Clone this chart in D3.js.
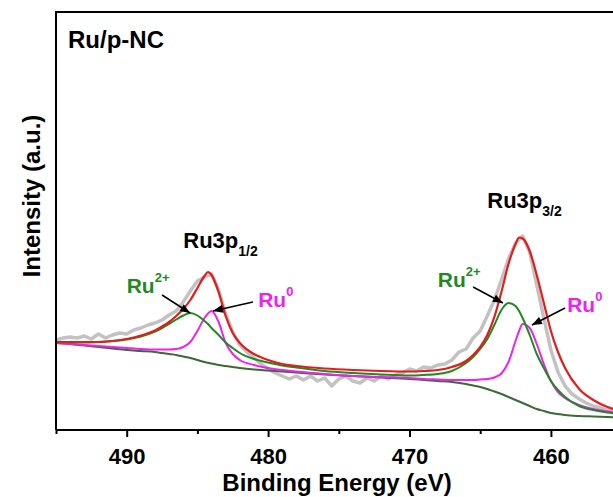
<!DOCTYPE html>
<html>
<head>
<meta charset="utf-8">
<script src="https://cdn.jsdelivr.net/npm/d3@7/dist/d3.min.js"></script>
<style>
  html, body { margin: 0; padding: 0; background: #fff; }
  svg { display: block; }
  text { font-family: "Liberation Sans", Arial, sans-serif; font-weight: bold; }
</style>
</head>
<body>
<svg id="chart" width="613" height="497"></svg>
<script>
// Ru 3p XPS spectrum of Ru/p-NC with peak fitting (intensity in a.u.)

// Energy grid (eV) for the fitted curves
const fitEnergy = [495, 494, 493, 492, 491, 490, 489, 488, 487.5, 487, 486.5, 486, 485.5, 485, 484.5, 484.25, 484,
  483.5, 483, 482.5, 482, 481, 480, 479, 478, 476, 474, 472, 470, 469, 468, 467, 466, 465.5, 465, 464.5, 464,
  463.5, 463, 462.5, 462.25, 462, 461.5, 461, 460.5, 460, 459.5, 459, 458, 457, 456, 455];

// Shirley background
const background = [87, 86, 84.5, 83, 81.5, 80, 79, 78, 77, 76, 75, 73.5, 72, 70, 68, 67.3, 66.5,
  65, 64, 63, 62, 60.5, 59.5, 58.5, 57.5, 55.5, 54, 52.5, 51, 50, 49, 48, 46, 44.5, 43, 41, 38.5,
  36, 33, 30, 28.5, 27, 24, 21, 19, 17, 16, 15, 14, 13.5, 13, 12.5];

// Ru2+ component (on background)
const ru2plus = [87.5, 87.5, 87.5, 88, 89, 90.5, 93.5, 98.5, 102, 106, 110.5, 114.5, 117, 114.5, 109, 106, 102,
  95, 87.5, 82, 77, 71, 67.5, 64.5, 62.5, 59, 57, 55.5, 54.5, 55, 56, 59, 67, 73, 81, 91, 105,
  120, 127, 124, 119, 112, 95, 76, 62, 49, 40, 33, 24, 20, 17.5, 16];

// Ru0 component (on background)
const ru0 = [87, 86, 85, 84, 83, 82, 81, 80.5, 80.5, 80.5, 81, 83, 88, 99, 112, 116.5, 119,
  108, 87, 76, 70, 65, 62, 60, 58.5, 56, 54, 53, 52, 51, 50.5, 50, 50, 50, 50.5, 51, 52.5,
  56.5, 68, 89, 99, 106, 102, 86, 66, 49, 38, 32, 25, 21, 18.5, 17];

// Fitted envelope
const envelope = [88, 88, 88, 88, 89, 91, 94.5, 99.5, 103.5, 108, 114, 121, 130, 142, 154, 158, 155,
  138, 114, 97, 87, 76, 70, 66, 64, 61.5, 60, 59, 58.5, 59, 60, 63, 69, 75, 83, 95, 113,
  138, 166, 186, 192.5, 191.5, 179, 155, 127, 99, 78, 62, 41, 30, 23, 19];

// Measured spectrum, 0.5 eV steps from 495 eV down to 455.5 eV
const rawStart = 495, rawStep = 0.5;
const rawCounts = [90, 92, 93, 92, 94, 91, 96, 92, 95, 97, 96, 100, 102, 105, 107, 110, 115, 119, 128, 139,
  149, 153, 156, 140, 116, 98, 85, 78, 72, 66, 61, 57, 54, 51, 54, 50, 54, 49, 52, 44,
  51, 54, 49, 47, 52, 49, 54, 51, 55, 57, 61, 59, 63, 62, 65, 66, 70, 78, 81, 92,
  99, 114, 130, 150, 171, 187, 194, 178, 145, 112, 80, 58, 44, 36, 31, 27, 24, 22, 20, 19];

const majorTicks = [490, 480, 470, 460];
const minorTicks = [495, 485, 475, 465, 455];

// Annotations, in data units
const peakLabels = [
  { text: "Ru3p", sub: "1/2", e: 486.0, i: 182 },
  { text: "Ru3p", sub: "3/2", e: 464.5, i: 222 }
];
const stateLabels = [
  { text: "Ru", sup: "2+", e: 490.0, i: 137, color: "#1f8a1f" },
  { text: "Ru", sup: "2+", e: 468.0, i: 143, color: "#1f8a1f" },
  { text: "Ru", sup: "0", e: 480.7, i: 123, color: "#ee22ee" },
  { text: "Ru", sup: "0", e: 458.85, i: 118, color: "#ee22ee" }
];
const arrows = [
  { e0: 487.5, i0: 135, e1: 485.52, i1: 117 },
  { e0: 481.07, i0: 128, e1: 483.9, i1: 119 },
  { e0: 465.5, i0: 143, e1: 463.39, i1: 127 },
  { e0: 459.0, i0: 122, e1: 461.34, i1: 105 }
];

const svg = d3.select("#chart");
const W = 613, H = 497;
const plot = { left: 56, top: 12, bottom: 430, right: 621.6 };

const x = d3.scaleLinear().domain([495, 455]).range([plot.left, plot.right]);
const y = d3.scaleLinear().domain([0, 418]).range([plot.bottom, plot.top]);

svg.append("rect").attr("width", W).attr("height", H).attr("fill", "#fff");

svg.append("defs").append("clipPath").attr("id", "clip")
  .append("rect").attr("x", plot.left).attr("y", plot.top)
  .attr("width", plot.right - plot.left).attr("height", plot.bottom - plot.top);

const g = svg.append("g").attr("clip-path", "url(#clip)");

const rawData = rawCounts.map((v, k) => [rawStart - k * rawStep, v]);
const lineRaw = d3.line().x(d => x(d[0])).y(d => y(d[1]));
g.append("path").datum(rawData).attr("d", lineRaw)
  .attr("fill", "none").attr("stroke", "#c2c2c2").attr("stroke-width", 3.5)
  .attr("stroke-linejoin", "round");

const lineFit = d3.line().x(d => x(d[0])).y(d => y(d[1])).curve(d3.curveMonotoneX);
const series = [
  { values: background, color: "#3b6a36", width: 2 },
  { values: ru0, color: "#ee22ee", width: 2 },
  { values: ru2plus, color: "#1f8a1f", width: 2 },
  { values: envelope, color: "#e51c1c", width: 2.2 }
];
series.forEach(s => {
  g.append("path").datum(fitEnergy.map((e, k) => [e, s.values[k]])).attr("d", lineFit)
    .attr("fill", "none").attr("stroke", s.color).attr("stroke-width", s.width);
});

// Frame
svg.append("line").attr("x1", plot.left).attr("x2", W).attr("y1", plot.top).attr("y2", plot.top)
  .attr("stroke", "#000").attr("stroke-width", 2);
svg.append("line").attr("x1", plot.left).attr("x2", plot.left).attr("y1", plot.top - 1).attr("y2", plot.bottom)
  .attr("stroke", "#000").attr("stroke-width", 2);

// Bottom axis
const axisMajor = d3.axisBottom(x).tickValues(majorTicks).tickSize(7).tickSizeOuter(0).tickPadding(11);
const axG = svg.append("g").attr("transform", `translate(0,${plot.bottom})`).call(axisMajor);
axG.select(".domain").attr("stroke-width", 2).attr("d", `M${plot.left},0H${W + 20}`);
axG.selectAll(".tick line").attr("stroke-width", 2);
axG.selectAll(".tick text").attr("font-size", 22).attr("font-family", "Liberation Sans, Arial, sans-serif")
  .attr("font-weight", "bold").attr("fill", "#000");

const axisMinor = d3.axisBottom(x).tickValues(minorTicks).tickSize(4).tickSizeOuter(0).tickFormat("");
const axMin = svg.append("g").attr("transform", `translate(0,${plot.bottom})`).call(axisMinor);
axMin.select(".domain").remove();
axMin.selectAll(".tick line").attr("stroke-width", 2);

// Axis titles
svg.append("text").attr("x", 337).attr("y", 491).attr("text-anchor", "middle")
  .attr("font-size", 24).text("Binding Energy (eV)");
svg.append("text").attr("transform", "translate(40,196) rotate(-90)").attr("text-anchor", "middle")
  .attr("font-size", 24).text("Intensity (a.u.)");

// Sample name
svg.append("text").attr("x", 68).attr("y", 48).attr("font-size", 24).text("Ru/p-NC");

// Peak labels
peakLabels.forEach(p => {
  const t = svg.append("text").attr("x", x(p.e)).attr("y", y(p.i)).attr("font-size", 22).attr("fill", "#000");
  t.append("tspan").text(p.text);
  t.append("tspan").attr("font-size", 14).attr("dy", 8).text(p.sub);
});

// Chemical-state labels
stateLabels.forEach(p => {
  const t = svg.append("text").attr("x", x(p.e)).attr("y", y(p.i)).attr("font-size", 21).attr("fill", p.color);
  t.append("tspan").text(p.text);
  t.append("tspan").attr("font-size", 13).attr("dy", -11).text(p.sup);
});

// Arrows
svg.select("defs").append("marker").attr("id", "head")
  .attr("viewBox", "0 0 10 8").attr("refX", 10).attr("refY", 4)
  .attr("markerWidth", 11).attr("markerHeight", 8).attr("markerUnits", "userSpaceOnUse")
  .attr("orient", "auto")
  .append("path").attr("d", "M0,0L10,4L0,8Z").attr("fill", "#000");

arrows.forEach(a => {
  svg.append("line").attr("x1", x(a.e0)).attr("y1", y(a.i0)).attr("x2", x(a.e1)).attr("y2", y(a.i1))
    .attr("stroke", "#000").attr("stroke-width", 1.5).attr("marker-end", "url(#head)");
});
</script>
</body>
</html>
